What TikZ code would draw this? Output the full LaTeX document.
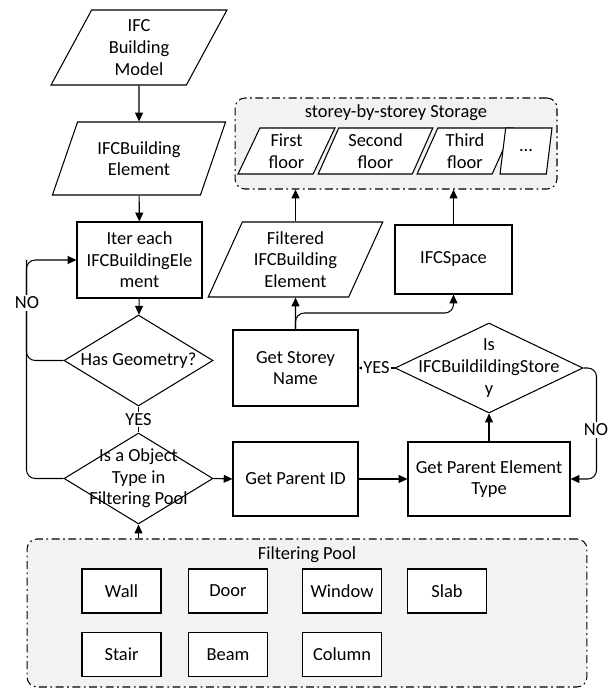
\documentclass[tikz,border=0pt]{standalone}
\usepackage{fontspec}
\setmainfont{Carlito}
\usepackage{tikz}
\usetikzlibrary{shapes.geometric,arrows.meta,calc}

\begin{document}
\fontsize{10.5pt}{12.3pt}\selectfont
\begin{tikzpicture}[x=0.02cm, y=-0.02cm, line width=0.6pt,
	>={Triangle[length=5pt,width=4.5pt]},
	procbox/.style={draw, rectangle, fill=white, align=center, inner sep=1pt},
	databox/.style={draw, trapezium, trapezium left angle=65, trapezium right angle=115,
		trapezium stretches=true, fill=white, align=center, inner sep=1pt},
	floorbox/.style={databox, trapezium left angle=67, trapezium right angle=113, minimum height=0.92cm},
	decision/.style={draw, diamond, fill=white, inner sep=0pt},
	itembox/.style={draw, rectangle, fill=white, minimum width=1.58cm, minimum height=0.88cm},
	groupbox/.style={draw, dash pattern=on 4.5pt off 2pt on 1pt off 2pt, rounded corners=0.2cm, fill=black!5},
	tag/.style={fill=white, inner sep=1pt}]

		\useasboundingbox (0,0) rectangle (611,688);

		\node [groupbox, minimum width=6.44cm, minimum height=1.82cm] (storage) at (396,143.5) {};
		\node (storagetitle) at (396,113) {storey-by-storey Storage};
		\node [floorbox, minimum width=1.94cm] (first) at (286.5,151) {First\\floor};
		\node [floorbox, minimum width=2.3cm] (second) at (375.5,151) {Second\\floor};
		\node [floorbox, minimum width=1.92cm] (third) at (465,151) {Third\\floor};
		\node [floorbox, minimum width=1.04cm] (more) at (526,151) {...};

		\node [groupbox, minimum width=11.2cm, minimum height=2.96cm] (pool) at (307,613) {};
		\node (pooltitle) at (307,555) {Filtering Pool};
		\node [itembox] (wall) at (121.5,591) {Wall};
		\node [itembox] (door) at (228,591) {Door};
		\node [itembox] (window) at (342,591) {Window};
		\node [itembox] (slab) at (447,591) {Slab};
		\node [itembox] (stair) at (121.5,654.5) {Stair};
		\node [itembox] (beam) at (228,654.5) {Beam};
		\node [itembox] (column) at (342,654.5) {Column};

		\node [databox, minimum width=3.54cm, minimum height=1.5cm] (model) at (139,47.5) {IFC\\Building\\Model};
		\node [databox, minimum width=3.48cm, minimum height=1.46cm] (elem) at (139,158.5) {IFCBuilding\\Element};
		\node [procbox, minimum width=2.5cm, minimum height=1.52cm] (iter) at (139.5,260) {Iter each\\IFCBuildingEle\\ment};
		\node [decision, minimum width=2.98cm, minimum height=1.82cm,
			label={center:Has Geometry?}] (hasgeo) at (138.5,360.5) {};
		\node [decision, minimum width=2.98cm, minimum height=1.82cm,
			label={[align=center]center:Is a Object\\Type in\\Filtering Pool}] (isobj) at (138.5,478.5) {};

		\node [procbox, minimum width=2.5cm, minimum height=1.48cm] (parentid) at (295.5,479) {Get Parent ID};
		\node [procbox, minimum width=3.24cm, minimum height=1.48cm] (ptype) at (489,479) {Get Parent Element\\Type};
		\node [decision, minimum width=3.76cm, minimum height=1.8cm,
			label={[align=center]center:Is\\IFCBuildildingStore\\y}] (isstorey) at (489,368) {};
		\node [procbox, minimum width=2.5cm, minimum height=1.52cm] (storeyname) at (295.5,368) {Get Storey\\Name};
		\node [databox, minimum width=3.5cm, minimum height=1.5cm] (filtered) at (295.5,259.5) {Filtered\\IFCBuilding\\Element};
		\node [procbox, minimum width=2.34cm, minimum height=1.38cm] (ifcspace) at (453.5,259.5) {IFCSpace};
		\coordinate (split) at (453.5,313);

		\draw [->] (model) -- (elem);
		\draw [->] (elem) -- (iter);
		\draw [->] (iter) -- (hasgeo);
		\draw (hasgeo.south) -- node [tag] (yes1) {YES} (isobj.north);
		\draw [rounded corners=5pt] (hasgeo.west) -| ($(iter.west)+(-50,0)$);
		\draw [->, rounded corners=5pt] (isobj.west) -| ($(iter.west)+(-50,0)$) -- (iter.west);
		\node [tag] (no1) at (27,303) {NO};

		\draw [->] (isobj.east) -- (parentid.west);
		\draw [->] (parentid.east) -- (ptype.west);
		\draw [->] (ptype.north) -- (isstorey.south);
		\draw [->, rounded corners=5pt] (isstorey.east) -- ++(13,0) |- (ptype.east);
		\node [tag] (no2) at (596,430) {NO};
		\draw [->] (isstorey.west) -- node [tag] (yes2) {YES} (storeyname.east);

		\draw [->] (storeyname.north) -- (filtered.south);
		\draw [->, rounded corners=5pt] (storeyname.north) |- (split) -- (ifcspace.south);
		\draw [->] (filtered.north) -- (filtered.north |- storage.south);
		\draw [->] (ifcspace.north) -- (ifcspace.north |- storage.south);

		\draw [->] (pool.north -| isobj.south) -- (isobj.south);

	\end{tikzpicture}
\end{document}
